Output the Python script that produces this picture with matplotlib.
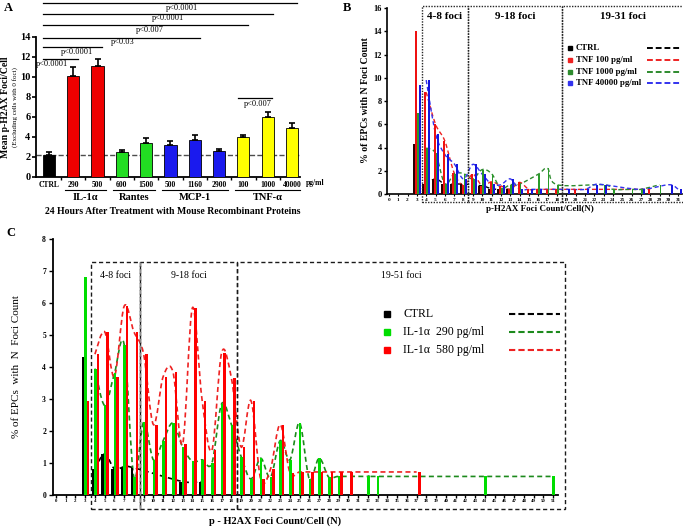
import numpy as np
import matplotlib.pyplot as plt
from matplotlib.path import Path
from matplotlib.patches import PathPatch, Rectangle
from matplotlib.lines import Line2D

plt.rcParams['font.family'] = ['Liberation Serif', 'DejaVu Serif']

# ---------------- panel A data
a_labels = ['CTRL', '290', '500', '600', '1500', '500', '1160', '2900', '100', '1000', '40000']
a_means = [2.25, 10.15, 11.1, 2.55, 3.45, 3.25, 3.75, 2.6, 4.0, 6.0, 4.95]
a_err = [0.25, 0.8, 0.7, 0.2, 0.45, 0.4, 0.45, 0.2, 0.2, 0.5, 0.45]
a_colors = ['black', '#ee0000', '#ee0000', '#22dd22', '#22dd22',
            '#1a1aee', '#1a1aee', '#1a1aee', '#ffff00', '#ffff00', '#ffff00']
a_groups = ['IL-1α', 'Rantes', 'MCP-1', 'TNF-α']
a_group_members = [[1, 2], [3, 4], [5, 6, 7], [8, 9, 10]]
ctrl_level = 2.25
# (label, from bar, to bar)
a_sig = [('p<0.0001', 0, 10), ('p<0.0001', 0, 9), ('p<0.007', 0, 8),
         ('p<0.03', 0, 6), ('p<0.0001', 0, 2), ('p<0.0001', 0, 1)]
a_sig_tnf = ('p<0.007', 8, 9)

# ---------------- panel B data (foci count 0..31)
b_n = np.arange(32)
b_ctrl = [0, 0, 0, 4.3, 0.85, 1.3, 0.85, 0.85, 0.85, 0, 0.7, 0.45, 0.4, 0.4, 0, 0,
          0, 0, 0, 0, 0, 0, 0, 0, 0, 0, 0, 0, 0, 0, 0, 0]
b_tnf100 = [0, 0, 0, 14.0, 8.75, 6.0, 4.55, 1.8, 0.75, 1.7, 0.7, 1.05, 0.7, 0.4, 1.0, 0.4,
            0.4, 0.4, 0.4, 0, 0.4, 0, 0, 0, 0, 0, 0, 0, 0.4, 0, 0, 0]
b_tnf1000 = [0, 0, 0, 7.0, 3.95, 3.5, 0.85, 1.75, 1.75, 1.3, 2.1, 1.75, 0.5, 0.8, 0.85, 0,
             1.7, 2.2, 0.8, 0, 0, 0, 0, 0.8, 0.4, 0, 0.4, 0.4, 0, 0.8, 0, 0]
b_tnf40000 = [0, 0, 0, 9.4, 9.8, 5.2, 3.4, 2.6, 1.3, 2.55, 1.7, 0.85, 0.8, 1.3, 0.4, 0.4,
              0.4, 0, 0, 0.4, 0, 0.4, 0.8, 0.8, 0, 0, 0, 0.4, 0, 0, 0.8, 0.4]
b_names = ['CTRL', 'TNF 100 pg/ml', 'TNF 1000 pg/ml', 'TNF 40000 pg/ml']
b_ranges = [('4-8 foci', 3.5, 8.5), ('9-18 foci', 8.5, 18.5), ('19-31 foci', 18.5, 31.65)]

# ---------------- panel C data (foci count 0..51)
c_ctrl_n = [3, 4, 5, 6, 7, 8, 13, 15]
c_ctrl = [4.3, 0.82, 1.28, 0.82, 0.88, 0.85, 0.42, 0.42]
c_il290_n = list(range(3, 30)) + [32, 33, 44, 51]
c_il290 = [6.8, 3.95, 2.8, 3.8, 4.7, 0.55, 2.28, 1.1, 1.7, 2.25, 1.5, 1.05, 1.1, 1.0,
           2.85, 2.2, 1.2, 0.5, 1.15, 0.55, 1.7, 1.1, 2.25, 0.5, 1.15, 0.55, 0.58,
           0.58, 0.58, 0.58, 0.58]
c_il580_n = list(range(3, 31)) + [37]
c_il580 = [2.95, 4.4, 5.1, 3.7, 5.9, 5.1, 4.4, 2.2, 3.7, 3.85, 1.6, 5.85, 2.95, 1.4,
           4.45, 3.65, 1.5, 2.95, 0.5, 0.8, 2.2, 0.7, 0.72, 0.72, 0.72, 0.72, 0.72,
           0.72, 0.72]
c_names = ['CTRL', 'IL-1α  290 pg/ml', 'IL-1α  580 pg/ml']
c_ranges = [('4-8 foci', 3.6, 8.6), ('9-18 foci', 8.6, 18.6), ('19-51 foci', 18.6, 52.2)]

W, H = 683, 528
fig = plt.figure(figsize=(W / 100, H / 100), dpi=100)


def rect(l, t, r, b):
    return [l / W, 1 - b / H, (r - l) / W, (b - t) / H]


def ftext(x, y, s, **kw):
    fig.text(x / W, 1 - y / H, s, **kw)


def fline(x0, x1, y, **kw):
    fig.add_artist(Line2D([x0 / W, x1 / W], [1 - y / H, 1 - y / H],
                          transform=fig.transFigure, **kw))


def fsquare(x, y, c, ms=4):
    fig.add_artist(Line2D([x / W], [1 - y / H], marker='s', ms=ms, color=c,
                          linestyle='none', transform=fig.transFigure))


def smooth(ax, xs, ys, color, lw=1.1):
    # catmull-rom through the bar tops, drawn as bezier path
    pts = np.column_stack([xs, ys]).astype(float)
    verts = [pts[0]]
    codes = [Path.MOVETO]
    for i in range(len(pts) - 1):
        p0 = pts[max(i - 1, 0)]
        p1 = pts[i]
        p2 = pts[i + 1]
        p3 = pts[min(i + 2, len(pts) - 1)]
        verts += [p1 + (p2 - p0) / 6, p2 - (p3 - p1) / 6, p2]
        codes += [Path.CURVE4] * 3
    ax.add_patch(PathPatch(Path(verts, codes), fill=False, edgecolor=color,
                           linestyle=(0, (3, 2)), lw=lw, clip_on=False))


def curve_pts(n, v, start=4):
    n = np.asarray(n)
    v = np.asarray(v, dtype=float)
    keep = (n >= start) & (v > 0)
    return n[keep], v[keep]


# ======================= A
axA = fig.add_axes(rect(36, 37, 300, 177))
xa = np.arange(len(a_means))
axA.bar(xa, a_means, width=0.5, color=a_colors, edgecolor='black', linewidth=0.6, zorder=3)
axA.errorbar(xa, a_means, yerr=[np.zeros(len(a_err)), a_err], fmt='none',
             ecolor='black', capsize=2.5, elinewidth=1.2, capthick=1.2, zorder=4)
axA.axhline(ctrl_level, color='0.3', ls='--', lw=1, zorder=2)
axA.set_xlim(-0.53, 10.33)
axA.set_ylim(0, 14)
axA.set_yticks(range(0, 15, 2))
axA.set_xticks(xa)
axA.set_xticklabels(a_labels, fontsize=5.5, fontweight='bold')
axA.set_xticks(xa[:-1] + 0.5, minor=True)
axA.tick_params(axis='x', which='major', length=0, pad=3)
axA.tick_params(axis='x', which='minor', length=2.5, width=1)
axA.tick_params(axis='y', length=3, width=1.2, labelsize=7.5, pad=1)
for t in axA.get_yticklabels():
    t.set_fontweight('bold')
for s in ['top', 'right']:
    axA.spines[s].set_visible(False)
for s in ['left', 'bottom']:
    axA.spines[s].set_linewidth(1.3)
axA.text(10.95, -0.6, 'pg/ml', fontsize=5.5, fontweight='bold', va='center',
         ha='center', clip_on=False)
for name, members in zip(a_groups, a_group_members):
    lo, hi = min(members) - 0.35, max(members) + 0.35
    axA.plot([lo, hi], [-1.25, -1.25], color='black', lw=0.8, clip_on=False)
    axA.text((min(members) + max(members)) / 2, -2.05, name, fontsize=7.5,
             fontweight='bold', ha='center', va='center', clip_on=False)
axA.text(5.1, -3.5, '24 Hours After Treatment with Mouse Recombinant Proteins',
         fontsize=7, fontweight='bold', ha='center', va='center', clip_on=False)
sig_y = [17.4, 16.3, 15.2, 13.9, 13.0, 11.8]
sig_tx = [5.47, 4.9, 4.16, 3.05, 1.15, 0.12]
for (lab, i0, i1), yy, tx in zip(a_sig, sig_y, sig_tx):
    axA.plot([i0 - 0.25, i1 + 0.2], [yy, yy], color='black', lw=0.9, clip_on=False)
    axA.text(tx, yy - 0.45, lab, fontsize=6, ha='center', va='center', clip_on=False)
lab, i0, i1 = a_sig_tnf
axA.plot([i0 - 0.22, i1 + 0.18], [7.9, 7.9], color='black', lw=0.9)
axA.text((i0 + i1) / 2 + 0.1, 7.35, lab, fontsize=6, ha='center', va='center')
ftext(6, 107, 'Mean p-H2AX Foci/Cell', fontsize=7, fontweight='bold', rotation=90,
      ha='center', va='center')
ftext(15, 107, '(Excluding cells with 0 foci)', fontsize=5, rotation=90,
      ha='center', va='center')
ftext(4, 8, 'A', fontsize=9, fontweight='bold', ha='left', va='center')

# ======================= B
axB = fig.add_axes(rect(387, 8, 682, 194))
b_series = [b_ctrl, b_tnf100, b_tnf1000, b_tnf40000]
b_bar_colors = ['#2a0000', '#ee1111', '#2a9a2a', '#1515dd']
b_line_colors = ['black', '#ee2222', '#2e8b2e', '#3333ee']
b_off = [-0.3, -0.1, 0.1, 0.3]
for vals, c, off in zip(b_series, b_bar_colors, b_off):
    axB.bar(b_n + off, vals, width=0.2, color=c, linewidth=0, zorder=3)
for vals, c in zip(b_series, b_line_colors):
    xs, ys = curve_pts(b_n, vals)
    smooth(axB, xs, ys, c, lw=1.0)
axB.set_xlim(-0.2, 31.4)
axB.set_ylim(0, 16)
axB.set_yticks(range(0, 17, 2))
axB.set_xticks(b_n)
axB.tick_params(axis='x', labelsize=3.8, length=1.5, pad=1.5)
axB.tick_params(axis='y', labelsize=6, length=2.5, width=1, pad=1)
for t in axB.get_yticklabels() + axB.get_xticklabels():
    t.set_fontweight('bold')
for s in ['top', 'right']:
    axB.spines[s].set_visible(False)
for s in ['left', 'bottom']:
    axB.spines[s].set_linewidth(1.2)
for lab, x0, x1 in b_ranges:
    axB.add_patch(Rectangle((x0, -0.72), x1 - x0, 16.9, fill=False, edgecolor='0.15',
                            linestyle=(0, (1, 1)), lw=1.0, clip_on=False, zorder=5))
    axB.text((x0 + x1) / 2, 15.25, lab, fontsize=8, fontweight='bold', ha='center',
             va='center')
ftext(540, 209, 'p-H2AX Foci Count/Cell(N)', fontsize=6.5, fontweight='bold',
      ha='center', va='center')
ftext(365, 100, '% of EPCs with N Foci Count', fontsize=7, fontweight='bold',
      rotation=90, ha='center', va='center')
for k, (name, c) in enumerate(zip(b_names, b_line_colors)):
    y = 48 + k * 11.8
    fsquare(570, y, c if k else 'black', ms=3)
    ftext(576, y, name, fontsize=6.3, fontweight='bold', ha='left', va='center')
    fline(647, 680, y, color=c, lw=1.4, linestyle=(0, (3, 1.5)))
ftext(343, 8, 'B', fontsize=9, fontweight='bold', ha='left', va='center')

# ======================= C
axC = fig.add_axes(rect(53, 239, 558, 495))
c_sets = [(c_ctrl_n, c_ctrl), (c_il290_n, c_il290), (c_il580_n, c_il580)]
c_bar_colors = ['black', '#00dd00', '#ff0000']
c_line_colors = ['black', '#1c8a1c', '#ee2222']
c_off = [-0.22, 0.05, 0.3]
for (n, v), c, off in zip(c_sets, c_bar_colors, c_off):
    axC.bar(np.asarray(n) + off, v, width=0.26, color=c, linewidth=0, zorder=3)
for (n, v), c in zip(c_sets, c_line_colors):
    xs, ys = curve_pts(n, v)
    smooth(axC, xs, ys, c, lw=1.2)
axC.set_xlim(-0.3, 51.5)
axC.set_ylim(0, 8)
axC.set_yticks(range(0, 9))
axC.set_xticks(range(0, 52))
axC.tick_params(axis='x', labelsize=3.5, length=2, width=1, pad=1)
axC.tick_params(axis='y', labelsize=5.5, length=3, width=1, pad=2)
for t in axC.get_yticklabels() + axC.get_xticklabels():
    t.set_fontweight('bold')
for s in ['top', 'right']:
    axC.spines[s].set_visible(False)
for s in ['left', 'bottom']:
    axC.spines[s].set_linewidth(1.3)
for k, (lab, x0, x1) in enumerate(c_ranges):
    axC.add_patch(Rectangle((x0, -0.44), x1 - x0, 7.72, fill=False, edgecolor='0.1',
                            linestyle=(0, (3, 2)), lw=1.0, clip_on=False, zorder=5))
    axC.text((x0 + x1) / 2, 6.85, lab, fontsize=7, ha='center', va='center')
axC.plot([8.6, 8.6], [-0.44, 7.28], color='0.55', linestyle=(0, (3, 2)), lw=1.0,
         clip_on=False, zorder=6)
ftext(275, 521, 'p - H2AX Foci Count/Cell (N)', fontsize=7.5, fontweight='bold',
      ha='center', va='center')
ftext(17, 367, '% of EPCs  with  N  Foci Count', fontsize=8, rotation=90,
      ha='center', va='center')
for k, (name, c) in enumerate(zip(c_names, c_line_colors)):
    y = 314 + k * 18
    fsquare(387, y, c_bar_colors[k], ms=4)
    ftext(403, y, name, fontsize=8.5, ha='left', va='center')
    fline(509, 560, y, color=c, lw=1.5, linestyle=(0, (3, 1.5)))
ftext(6, 233, 'C', fontsize=9, fontweight='bold', ha='left', va='center')

fig.savefig('out.png', dpi=100)
